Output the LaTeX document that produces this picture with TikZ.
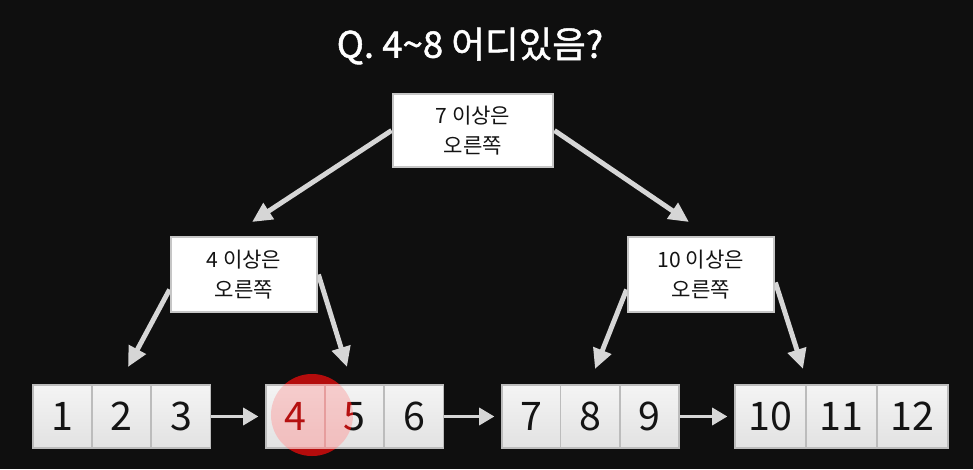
\documentclass[tikz,border=0pt]{standalone}
\usepackage{fontspec}
\setmainfont{Noto Sans CJK KR}
\newfontfamily\headfont{Noto Sans CJK KR}[FakeBold=1.3]
\usepackage{tikz}
\usetikzlibrary{arrows.meta,positioning,calc}
\definecolor{screen}{HTML}{0F0F0F}
\definecolor{arrowgray}{HTML}{D6D6D6}
\definecolor{boxline}{HTML}{C6C6C6}
\definecolor{celltop}{HTML}{F4F4F4}
\definecolor{cellbot}{HTML}{E2E2E2}
\definecolor{cellline}{HTML}{BCBCBC}
\definecolor{ink}{HTML}{141414}
\definecolor{hitred}{HTML}{A80000}
\pgfdeclarelayer{backdrop}
\pgfdeclarelayer{wires}
\pgfsetlayers{backdrop,wires,main}
\tikzset{
  % Split rules of the search tree
  rule/.style={draw=boxline,line width=2pt,fill=white,minimum width=3.65cm,
               minimum height=1.875cm,align=center,inner sep=1pt,text=ink,
               font=\fontsize{15}{21}\selectfont},
  rule0/.style={rule,minimum width=4cm,minimum height=1.825cm},
  % Leaf cells
  cell/.style={draw=cellline,line width=1.1pt,top color=celltop,bottom color=cellbot,
               minimum width=1.475cm,minimum height=1.575cm,inner sep=0pt,text=ink,
               font=\fontsize{28}{28}\selectfont},
  widecell/.style={cell,minimum width=1.775cm},
  % Connectors
  tree/.style={-{Triangle[length=0.5cm,width=0.46cm]},arrowgray,line width=3.5pt},
  link/.style={-{Triangle[length=0.38cm,width=0.42cm]},arrowgray,line width=2.8pt,
               shorten >=0.17cm}
}

\begin{document}
\begin{tikzpicture}[x=0.025cm,y=-0.025cm]
  \useasboundingbox (0,0) rectangle (973,469);
  \begin{pgfonlayer}{backdrop}
    \fill[screen] (0,0) rectangle (973,469);
  \end{pgfonlayer}

  \node[text=white,font=\headfont\fontsize{26}{30}\selectfont] (title) at (470,46) {Q. 4\textasciitilde8 어디있음?};

  \node[rule0] (top) at (473,130.5) {7 이상은\\오른쪽};
  \node[rule] (lft) at (244,274.5) {4 이상은\\오른쪽};
  \node[rule] (rgt) at (701,274.5) {10 이상은\\오른쪽};

  % leaf pages
  \foreach \n/\x in {1/62.5,2/121.5,3/181,4/295.5,5/354.5,6/414,7/531.5,8/590,9/649.5}
    \node[cell] (c\n) at (\x,416.5) {\n};
  \foreach \n/\x in {10/770.5,11/841.5,12/912.5}
    \node[widecell] (c\n) at (\x,416.5) {\n};

  \coordinate (topL) at (252,222);
  \coordinate (topR) at (689,222);
  \coordinate (lftL) at (128,367);
  \coordinate (lftR) at (347,367);
  \coordinate (rgtL) at (595,369);
  \coordinate (rgtR) at (803,369);

  \begin{pgfonlayer}{wires}
    \draw[tree] (top.west) -- (topL);
    \draw[tree] (top.east) -- (topR);
    \draw[tree] ($(lft.west)+(0,15)$) -- (lftL);
    \draw[tree] (lft.east) -- (lftR);
    \draw[tree] ($(rgt.west)+(0,15)$) -- (rgtL);
    \draw[tree] ($(rgt.east)+(0,8)$) -- (rgtR);
  \end{pgfonlayer}

  % sibling links
  \draw[link] (c3.east) -- (c4.west);
  \draw[link] (c6.east) -- (c7.west);
  \draw[link] (c9.east) -- (c10.west);

  % found here
  \begin{scope}[blend mode=screen]
    \fill[hitred] (312,415) circle[radius=1.025cm];
  \end{scope}
  \fill[red!85!black,opacity=0.16] (312,415) circle[radius=1.025cm];
\end{tikzpicture}
\end{document}
